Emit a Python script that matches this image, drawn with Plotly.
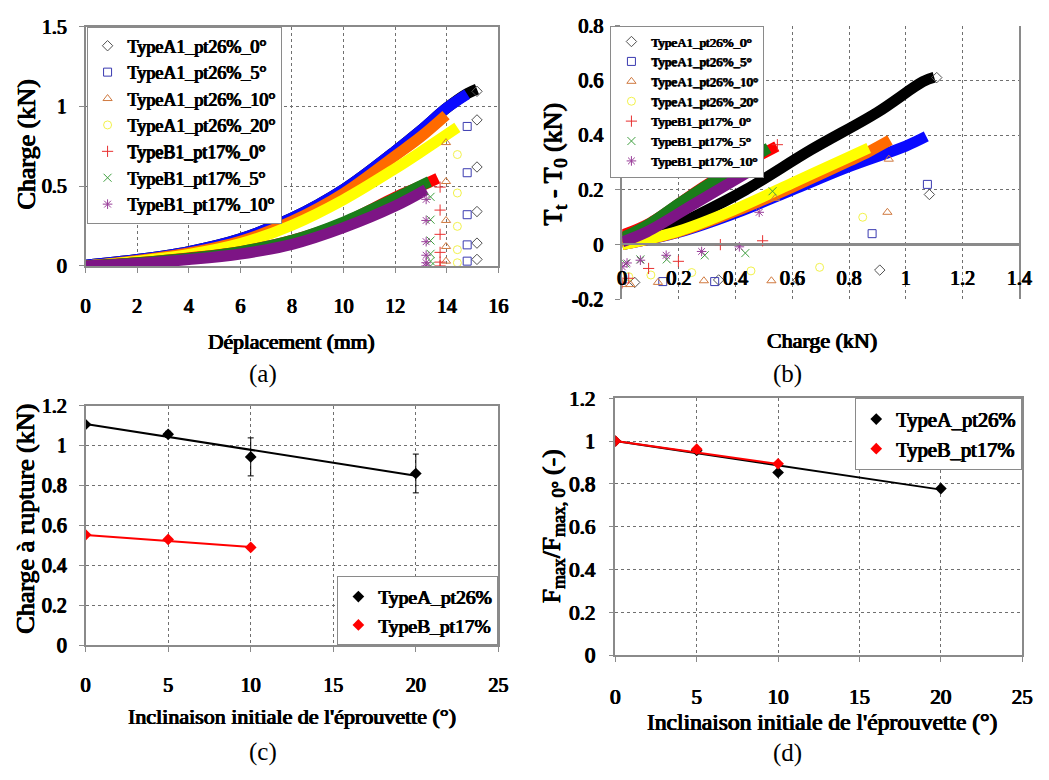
import plotly.graph_objects as go

W, H = 1049, 780

# ---------------- data ----------------
series_labels = ["TypeA1_pt26%_0°", "TypeA1_pt26%_5°", "TypeA1_pt26%_10°", "TypeA1_pt26%_20°",
                 "TypeB1_pt17%_0°", "TypeB1_pt17%_5°", "TypeB1_pt17%_10°"]

# (a) Charge (kN) vs Déplacement (mm) - dense measured bands (read points)
a_band_disp = [
    [0, 2, 4, 6, 8, 10, 12, 13, 14, 14.8, 15.17],
    [0, 2, 4, 6, 8, 10, 12, 13, 14, 14.79],
    [0, 2, 4, 6, 8, 10, 12, 13, 13.97],
    [0, 2, 4, 6, 8, 10, 12, 13, 14.41],
    [0, 2, 4, 6, 8, 10, 12, 13, 13.65],
    [0, 2, 4, 6, 8, 10, 12, 13.33],
    [0, 2, 4, 6, 8, 10, 12, 13.2],
]
a_band_load = [
    [0.005, 0.04, 0.09, 0.17, 0.30, 0.48, 0.72, 0.85, 0.99, 1.08, 1.108],
    [0.005, 0.04, 0.09, 0.17, 0.30, 0.48, 0.72, 0.85, 0.99, 1.077],
    [0.0, 0.035, 0.082, 0.155, 0.28, 0.455, 0.69, 0.81, 0.945],
    [0.0, 0.03, 0.072, 0.14, 0.255, 0.415, 0.61, 0.715, 0.868],
    [0.0, 0.02, 0.05, 0.09, 0.16, 0.27, 0.43, 0.50, 0.549],
    [0.0, 0.02, 0.048, 0.09, 0.16, 0.275, 0.425, 0.529],
    [0.0, 0.015, 0.04, 0.075, 0.135, 0.24, 0.375, 0.478],
]
# (a) post-rupture points
a_drop_disp = [
    [15.17, 15.17, 15.17, 15.17, 15.17, 15.17],
    [14.79, 14.79, 14.79, 14.79, 14.79],
    [13.97, 13.97, 13.97, 13.97, 13.97],
    [14.41, 14.41, 14.41, 14.41, 14.41],
    [13.74, 13.74, 13.74, 13.74, 13.74, 13.74],
    [13.37, 13.37, 13.37, 13.37, 13.37, 13.37],
    [13.2, 13.2, 13.2, 13.2, 13.2, 13.2],
]
a_drop_load = [
    [1.094, 0.915, 0.62, 0.341, 0.143, 0.041],
    [0.874, 0.584, 0.321, 0.132, 0.03],
    [0.773, 0.529, 0.285, 0.122, 0.03],
    [0.698, 0.457, 0.248, 0.102, 0.02],
    [0.494, 0.35, 0.198, 0.085, 0.024, 0.0],
    [0.433, 0.29, 0.159, 0.076, 0.03, 0.0],
    [0.417, 0.285, 0.152, 0.067, 0.02, 0.0],
]

# (b) Tt - T0 (kN) vs Charge (kN)
b_band_load = [
    [0, 0.1, 0.261, 0.435, 0.667, 0.898, 1.06, 1.1],
    [0, 0.2, 0.4, 0.6, 0.8, 1.0, 1.072],
    [0, 0.2, 0.4, 0.6, 0.8, 0.87, 0.944],
    [0, 0.2, 0.4, 0.6, 0.8, 0.869],
    [0, 0.1, 0.3, 0.545],
    [0, 0.088, 0.204, 0.35, 0.516],
    [0, 0.088, 0.261, 0.482],
]
b_band_diff = [
    [0.0, 0.03, 0.106, 0.2, 0.347, 0.482, 0.595, 0.611],
    [0.0, 0.045, 0.115, 0.2, 0.285, 0.36, 0.395],
    [0.0, 0.047, 0.122, 0.21, 0.305, 0.34, 0.382],
    [0.0, 0.05, 0.13, 0.225, 0.32, 0.353],
    [0.035, 0.08, 0.22, 0.359],
    [0.025, 0.071, 0.153, 0.25, 0.353],
    [0.01, 0.047, 0.153, 0.288],
]
b_pts_load = [
    [1.109, 1.083, 0.908, 0.62, 0.34, 0.044],
    [1.076, 0.881, 0.326, 0.143],
    [0.94, 0.935, 0.539, 0.526, 0.288, 0.126, 0.029, 0.0],
    [0.848, 0.696, 0.454, 0.245, 0.101, 0.023],
    [0.547, 0.495, 0.346, 0.198, 0.093, 0.023, 0.0],
    [0.53, 0.434, 0.291, 0.157, 0.064, 0.012],
    [0.483, 0.413, 0.28, 0.155, 0.064, 0.017, 0.0],
]
b_pts_diff = [
    [0.61, 0.183, -0.093, -0.13, -0.129, -0.138],
    [0.22, 0.04, -0.135, -0.135],
    [0.312, 0.118, 0.169, -0.132, -0.132, -0.138, -0.146, -0.146],
    [0.1, -0.083, -0.096, -0.102, -0.111, -0.117],
    [0.365, 0.014, 0.0, -0.061, -0.087, -0.123, -0.14],
    [0.195, -0.031, -0.039, -0.054, -0.054, -0.069],
    [0.118, -0.008, -0.025, -0.039, -0.057, -0.067, -0.081],
]

# (c) Charge à rupture vs inclinaison
incl_A = [0, 5, 10, 20]
rupture_A = [1.105, 1.056, 0.943, 0.86]
rupture_A_err = [0.01, 0.015, 0.095, 0.097]
incl_B = [0, 5, 10]
rupture_B = [0.553, 0.53, 0.49]
trend_c_A_x = [0, 20]
trend_c_A_y = [1.108, 0.849]
trend_c_B_x = [0, 10]
trend_c_B_y = [0.552, 0.492]

# (d) normalised
ratio_A = [1.0, 0.956, 0.853, 0.778]
ratio_B = [1.0, 0.962, 0.894]
trend_d_A_x = [0, 20]
trend_d_A_y = [1.0, 0.773]
trend_d_B_x = [0, 10]
trend_d_B_y = [1.0, 0.893]

legend_cd = ["TypeA_pt26%", "TypeB_pt17%"]
b_ytickvals = [-0.2, 0, 0.2, 0.4, 0.6, 0.8]
b_yticktext = ["-0.2", "0", "0.2", "0.4", "0.6", "0.8"]

# ---------------- styles ----------------
SERIF = "Liberation Serif"
SHADOW = "0.6px 0 0 black, -0.6px 0 0 black, 0 0.3px 0 black"
band_colors = ["#000000", "#0a0aff", "#ff6a00", "#ffff00", "#ff0000", "#1a7d1a", "#7d1585"]
pt_colors = ["#505050", "#3a3ab0", "#d07a40", "#f2f24a", "#e83030", "#3f9f3f", "#9a3f9a"]
symbols = ["diamond-open", "square-open", "triangle-up-open", "circle-open",
           "cross-thin-open", "x-thin-open", "asterisk-open"]
GRID = "#707070"
AXC = "#8a8a8a"


def bf(size):
    """bold-looking serif font (faux bold via text shadow)"""
    return dict(family=SERIF, size=size, color="black", weight="normal", shadow=SHADOW)


def px_x(p):
    return p / W


def px_y(p):
    return 1 - p / H


fig = go.Figure()

# ---- panel (a)
for i in range(7):
    fig.add_trace(go.Scatter(x=a_band_disp[i], y=a_band_load[i], mode="lines",
                             line=dict(color=band_colors[i], width=11, shape="spline"),
                             showlegend=False, xaxis="x", yaxis="y", hoverinfo="skip"))
for i in range(7):
    fig.add_trace(go.Scatter(x=a_drop_disp[i], y=a_drop_load[i], mode="markers",
                             marker=dict(symbol=symbols[i], size=8, color=pt_colors[i],
                                         line=dict(width=1, color=pt_colors[i])),
                             name=series_labels[i], legend="legend", xaxis="x", yaxis="y"))

# ---- panel (b)
for i in range(7):
    fig.add_trace(go.Scatter(x=b_band_load[i], y=b_band_diff[i], mode="lines",
                             line=dict(color=band_colors[i], width=11, shape="spline"),
                             showlegend=False, xaxis="x2", yaxis="y2", hoverinfo="skip"))
for i in range(7):
    fig.add_trace(go.Scatter(x=b_pts_load[i], y=b_pts_diff[i], mode="markers",
                             marker=dict(symbol=symbols[i], size=8, color=pt_colors[i],
                                         line=dict(width=1, color=pt_colors[i])),
                             name=series_labels[i], legend="legend2", xaxis="x2", yaxis="y2"))

# ---- panel (c)
fig.add_trace(go.Scatter(x=trend_c_A_x, y=trend_c_A_y, mode="lines", line=dict(color="black", width=2),
                         showlegend=False, xaxis="x3", yaxis="y3"))
fig.add_trace(go.Scatter(x=trend_c_B_x, y=trend_c_B_y, mode="lines", line=dict(color="#ff0000", width=2),
                         showlegend=False, xaxis="x3", yaxis="y3"))
fig.add_trace(go.Scatter(x=incl_A, y=rupture_A, mode="markers", name=legend_cd[0],
                         marker=dict(symbol="diamond", size=9, color="black"),
                         error_y=dict(type="data", array=rupture_A_err, color="black", thickness=1, width=3),
                         legend="legend3", xaxis="x3", yaxis="y3"))
fig.add_trace(go.Scatter(x=incl_B, y=rupture_B, mode="markers", name=legend_cd[1],
                         marker=dict(symbol="diamond", size=9, color="#ff0000"),
                         legend="legend3", xaxis="x3", yaxis="y3"))

# ---- panel (d)
fig.add_trace(go.Scatter(x=trend_d_A_x, y=trend_d_A_y, mode="lines", line=dict(color="black", width=2),
                         showlegend=False, xaxis="x4", yaxis="y4"))
fig.add_trace(go.Scatter(x=incl_A, y=ratio_A, mode="markers", name=legend_cd[0],
                         marker=dict(symbol="diamond", size=9, color="black"),
                         legend="legend4", xaxis="x4", yaxis="y4"))
fig.add_trace(go.Scatter(x=trend_d_B_x, y=trend_d_B_y, mode="lines", line=dict(color="#ff0000", width=2),
                         showlegend=False, xaxis="x4", yaxis="y4"))
fig.add_trace(go.Scatter(x=incl_B, y=ratio_B, mode="markers", name=legend_cd[1],
                         marker=dict(symbol="diamond", size=9, color="#ff0000"),
                         legend="legend4", xaxis="x4", yaxis="y4"))


def axis(domain, rng, dtick, anchor, fsize=20, **kw):
    d = dict(domain=domain, range=rng, dtick=dtick, anchor=anchor,
             showgrid=True, gridcolor=GRID, griddash="dot", gridwidth=1,
             showline=True, linecolor=AXC, linewidth=1.5, mirror=True,
             ticks="outside", ticklen=5, tickcolor=AXC, tickfont=bf(fsize),
             zeroline=False, fixedrange=True)
    d.update(kw)
    return d


# pixel geometry of each plot area
A = dict(x0=82, x1=502, y0=15, y1=262)
B = dict(x0=628, x1=1032, y0=14, y1=296.5, zero=239.5)
C = dict(x0=82, x1=502, y0=406, y1=653.5)
D = dict(x0=621, x1=1035, y0=398.5, y1=663.5)


def dom_x(p):
    return [px_x(p["x0"]), px_x(p["x1"])]


def dom_y(p):
    return [px_y(p["y1"]), px_y(p["y0"])]


def legend_box(x, y, xa, ya, size):
    return dict(x=px_x(x), y=px_y(y), xanchor=xa, yanchor=ya,
                bgcolor="white", bordercolor=AXC, borderwidth=1,
                font=bf(size), tracegroupgap=0, itemwidth=30)


fig.update_layout(
    width=W, height=H, margin=dict(l=0, r=0, t=0, b=0),
    paper_bgcolor="white", plot_bgcolor="white",
    font=dict(family=SERIF, color="black"),
    xaxis=axis(dom_x(A), [0, 16], 2, "y", ticklabelstandoff=16),
    yaxis=axis(dom_y(A), [0, 1.5], 0.5, "x", ticklabelstandoff=8),
    xaxis2=axis(dom_x(B), [0, 1.4], 0.2, "free", ticks="", mirror=False,
                position=px_y(B["zero"]), ticklabelstandoff=16),
    xaxis5=dict(domain=dom_x(B), range=[0, 1.4], anchor="y2", overlaying="x2",
                showgrid=False, zeroline=False, showticklabels=False,
                showline=True, linecolor=AXC, linewidth=1.5, mirror=True, fixedrange=True),
    yaxis2=axis(dom_y(B), [-0.2, 0.8], None, "x2", tickvals=b_ytickvals, ticktext=b_yticktext,
                zeroline=True, zerolinecolor=AXC, zerolinewidth=1.5, ticklabelstandoff=8),
    xaxis3=axis(dom_x(C), [0, 25], 5, "y3", ticklabelstandoff=16),
    yaxis3=axis(dom_y(C), [0, 1.2], 0.2, "x3", ticklabelstandoff=8),
    xaxis4=axis(dom_x(D), [0, 25], 5, "y4", fsize=21, ticklabelstandoff=17),
    yaxis4=axis(dom_y(D), [0, 1.2], 0.2, "x4", fsize=21, ticklabelstandoff=9),
    legend=legend_box(83, 15, "left", "top", 18),
    legend2=legend_box(616, 14, "left", "top", 13),
    legend3=legend_box(502, 653.5, "right", "bottom", 19.5),
    legend4=legend_box(1035, 398.5, "right", "top", 20.5),
)

cap_font = dict(family=SERIF, size=25, color="black")
annots = [
    ("Déplacement (mm)", 292, 340, 0, bf(21.5)),
    ("Charge (kN)", 22, 137, -90, bf(26)),
    ("(a)", 262, 373, 0, cap_font),
    ("Charge (kN)", 831, 339, 0, bf(22)),
    ("T<sub>t</sub> - T<sub>0</sub> (kN)", 559, 157, -90, bf(26)),
    ("(b)", 796, 373, 0, cap_font),
    ("Inclinaison initiale de l'éprouvette (°)", 292, 727, 0, bf(22)),
    ("Charge à rupture (kN)", 21, 523, -90, bf(26)),
    ("(c)", 262, 763, 0, cap_font),
    ("Inclinaison initiale de l'éprouvette (°)", 831, 733, 0, bf(23.5)),
    ("F<sub>max</sub>/F<sub>max, 0°</sub> (-)", 557, 530, -90, bf(25.5)),
    ("(d)", 796, 765, 0, cap_font),
]
for text, x, y, ang, f in annots:
    fig.add_annotation(text=text, x=px_x(x), y=px_y(y), xref="paper", yref="paper",
                       showarrow=False, textangle=ang, font=f, xanchor="center", yanchor="middle")

fig.write_html("out.html", config={"displayModeBar": False},
               post_script="document.body.style.margin='0';document.body.style.overflow='hidden';")
